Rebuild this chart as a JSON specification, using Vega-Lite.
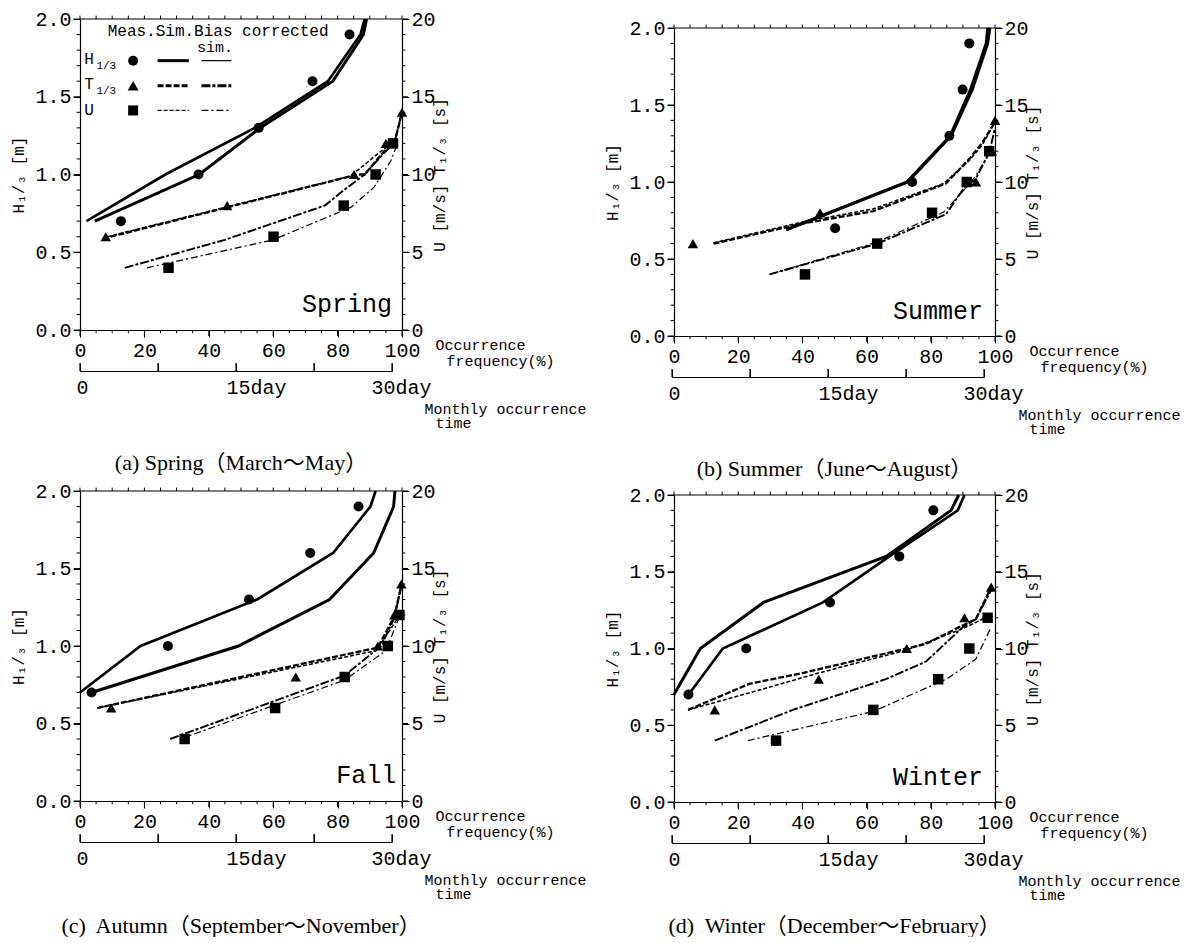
{
"$schema": "https://vega.github.io/schema/vega-lite/v6.json",
"background": "white",
"padding": {"left": 10, "top": 9, "right": 0, "bottom": 0},
"config": {
  "view": {"stroke": null},
  "font": "Liberation Mono",
  "axis": {"labelFont": "Liberation Mono", "labelFontSize": 20, "labelColor": "black", "titleFont": "Liberation Mono", "titleColor": "black", "titleFontWeight": "normal", "domainColor": "black", "tickColor": "black", "grid": false, "labelFlush": false, "labelOverlap": false, "tickWidth": 1, "domainWidth": 1.2},
  "text": {"font": "Liberation Mono", "color": "black"},
  "rule": {"color": "black", "strokeWidth": 1},
  "title": {"font": "Liberation Serif, Noto Sans CJK JP", "fontSize": 22, "fontWeight": "normal", "color": "black"}
},
"datasets": {
"ticks": [
{"axis":"x","v":0,"major":true},{"axis":"x","v":5,"major":false},{"axis":"x","v":10,"major":false},{"axis":"x","v":15,"major":false},{"axis":"x","v":20,"major":true},{"axis":"x","v":25,"major":false},{"axis":"x","v":30,"major":false},{"axis":"x","v":35,"major":false},{"axis":"x","v":40,"major":true},{"axis":"x","v":45,"major":false},{"axis":"x","v":50,"major":false},{"axis":"x","v":55,"major":false},{"axis":"x","v":60,"major":true},{"axis":"x","v":65,"major":false},{"axis":"x","v":70,"major":false},{"axis":"x","v":75,"major":false},{"axis":"x","v":80,"major":true},{"axis":"x","v":85,"major":false},{"axis":"x","v":90,"major":false},{"axis":"x","v":95,"major":false},{"axis":"x","v":100,"major":true},
{"axis":"y","v":0,"major":true},{"axis":"y","v":0.1,"major":false},{"axis":"y","v":0.2,"major":false},{"axis":"y","v":0.3,"major":false},{"axis":"y","v":0.4,"major":false},{"axis":"y","v":0.5,"major":true},{"axis":"y","v":0.6,"major":false},{"axis":"y","v":0.7,"major":false},{"axis":"y","v":0.8,"major":false},{"axis":"y","v":0.9,"major":false},{"axis":"y","v":1.0,"major":true},{"axis":"y","v":1.1,"major":false},{"axis":"y","v":1.2,"major":false},{"axis":"y","v":1.3,"major":false},{"axis":"y","v":1.4,"major":false},{"axis":"y","v":1.5,"major":true},{"axis":"y","v":1.6,"major":false},{"axis":"y","v":1.7,"major":false},{"axis":"y","v":1.8,"major":false},{"axis":"y","v":1.9,"major":false},{"axis":"y","v":2.0,"major":true}
],
"dayticks": [{"day":0},{"day":7.5},{"day":15},{"day":22.5},{"day":30}],
"meas": [
{"season":"Spring","var":"H","freq":12.7,"value":0.7},{"season":"Spring","var":"H","freq":36.8,"value":1.0},{"season":"Spring","var":"H","freq":55.5,"value":1.3},{"season":"Spring","var":"H","freq":72.2,"value":1.6},{"season":"Spring","var":"H","freq":83.7,"value":1.9},
{"season":"Spring","var":"T","freq":8.0,"value":6},{"season":"Spring","var":"T","freq":45.7,"value":8},{"season":"Spring","var":"T","freq":85.1,"value":10},{"season":"Spring","var":"T","freq":95.0,"value":12},{"season":"Spring","var":"T","freq":100,"value":14},
{"season":"Spring","var":"U","freq":27.5,"value":4},{"season":"Spring","var":"U","freq":60.1,"value":6},{"season":"Spring","var":"U","freq":81.9,"value":8},{"season":"Spring","var":"U","freq":91.8,"value":10},{"season":"Spring","var":"U","freq":97.2,"value":12},
{"season":"Summer","var":"H","freq":50.2,"value":0.7},{"season":"Summer","var":"H","freq":74.2,"value":1.0},{"season":"Summer","var":"H","freq":85.8,"value":1.3},{"season":"Summer","var":"H","freq":89.9,"value":1.6},{"season":"Summer","var":"H","freq":92.0,"value":1.9},
{"season":"Summer","var":"T","freq":5.9,"value":6},{"season":"Summer","var":"T","freq":45.5,"value":8},{"season":"Summer","var":"T","freq":94.1,"value":10},{"season":"Summer","var":"T","freq":99.0,"value":12},{"season":"Summer","var":"T","freq":100,"value":14},
{"season":"Summer","var":"U","freq":40.8,"value":4},{"season":"Summer","var":"U","freq":63.3,"value":6},{"season":"Summer","var":"U","freq":80.4,"value":8},{"season":"Summer","var":"U","freq":91.2,"value":10},{"season":"Summer","var":"U","freq":98.2,"value":12},
{"season":"Fall","var":"H","freq":3.6,"value":0.7},{"season":"Fall","var":"H","freq":27.3,"value":1.0},{"season":"Fall","var":"H","freq":52.5,"value":1.3},{"season":"Fall","var":"H","freq":71.5,"value":1.6},{"season":"Fall","var":"H","freq":86.5,"value":1.9},
{"season":"Fall","var":"T","freq":9.7,"value":6},{"season":"Fall","var":"T","freq":67.0,"value":8},{"season":"Fall","var":"T","freq":92.5,"value":10},{"season":"Fall","var":"T","freq":97.6,"value":12},{"season":"Fall","var":"T","freq":99.8,"value":14},
{"season":"Fall","var":"U","freq":32.5,"value":4},{"season":"Fall","var":"U","freq":60.6,"value":6},{"season":"Fall","var":"U","freq":82.2,"value":8},{"season":"Fall","var":"U","freq":95.6,"value":10},{"season":"Fall","var":"U","freq":99.2,"value":12},
{"season":"Winter","var":"H","freq":4.5,"value":0.7},{"season":"Winter","var":"H","freq":22.5,"value":1.0},{"season":"Winter","var":"H","freq":48.6,"value":1.3},{"season":"Winter","var":"H","freq":70.2,"value":1.6},{"season":"Winter","var":"H","freq":80.8,"value":1.9},
{"season":"Winter","var":"T","freq":12.7,"value":6},{"season":"Winter","var":"T","freq":45.1,"value":8},{"season":"Winter","var":"T","freq":72.5,"value":10},{"season":"Winter","var":"T","freq":90.5,"value":12},{"season":"Winter","var":"T","freq":98.8,"value":14},
{"season":"Winter","var":"U","freq":31.8,"value":4},{"season":"Winter","var":"U","freq":62.1,"value":6},{"season":"Winter","var":"U","freq":82.3,"value":8},{"season":"Winter","var":"U","freq":92.0,"value":10},{"season":"Winter","var":"U","freq":97.7,"value":12}
],
"lines": [
{"season":"Spring","var":"H","series":"H sim","freq":4.6,"value":0.7},{"season":"Spring","var":"H","series":"H sim","freq":37,"value":1.0},{"season":"Spring","var":"H","series":"H sim","freq":56,"value":1.3},{"season":"Spring","var":"H","series":"H sim","freq":78.5,"value":1.6},{"season":"Spring","var":"H","series":"H sim","freq":88,"value":1.9},{"season":"Spring","var":"H","series":"H sim","freq":89,"value":2.0},
{"season":"Spring","var":"H","series":"H bias","freq":2,"value":0.7},{"season":"Spring","var":"H","series":"H bias","freq":26.5,"value":1.0},{"season":"Spring","var":"H","series":"H bias","freq":54.3,"value":1.3},{"season":"Spring","var":"H","series":"H bias","freq":77,"value":1.6},{"season":"Spring","var":"H","series":"H bias","freq":87.1,"value":1.9},{"season":"Spring","var":"H","series":"H bias","freq":88.4,"value":2.0},
{"season":"Spring","var":"TU","series":"T sim","freq":9.5,"value":6},{"season":"Spring","var":"TU","series":"T sim","freq":86.3,"value":10},{"season":"Spring","var":"TU","series":"T sim","freq":88.4,"value":10},{"season":"Spring","var":"TU","series":"T sim","freq":94.5,"value":11.5},{"season":"Spring","var":"TU","series":"T sim","freq":97.6,"value":12},{"season":"Spring","var":"TU","series":"T sim","freq":100,"value":14},
{"season":"Spring","var":"TU","series":"U sim","freq":8.5,"value":6},{"season":"Spring","var":"TU","series":"U sim","freq":84,"value":9.9},{"season":"Spring","var":"TU","series":"U sim","freq":93.5,"value":11.5},{"season":"Spring","var":"TU","series":"U sim","freq":97,"value":12},
{"season":"Spring","var":"TU","series":"T bias","freq":13.9,"value":4},{"season":"Spring","var":"TU","series":"T bias","freq":45,"value":5.8},{"season":"Spring","var":"TU","series":"T bias","freq":76,"value":8},{"season":"Spring","var":"TU","series":"T bias","freq":82,"value":9},{"season":"Spring","var":"TU","series":"T bias","freq":88.4,"value":10},{"season":"Spring","var":"TU","series":"T bias","freq":94.5,"value":11.4},{"season":"Spring","var":"TU","series":"T bias","freq":97.6,"value":12},{"season":"Spring","var":"TU","series":"T bias","freq":100,"value":14},
{"season":"Spring","var":"TU","series":"U bias","freq":20.8,"value":4},{"season":"Spring","var":"TU","series":"U bias","freq":60,"value":5.8},{"season":"Spring","var":"TU","series":"U bias","freq":84.2,"value":7.9},{"season":"Spring","var":"TU","series":"U bias","freq":91.4,"value":9.2},{"season":"Spring","var":"TU","series":"U bias","freq":96.6,"value":10.9},{"season":"Spring","var":"TU","series":"U bias","freq":98.4,"value":11.9},
{"season":"Summer","var":"H","series":"H sim","freq":35,"value":0.69},{"season":"Summer","var":"H","series":"H sim","freq":72.8,"value":1.0},{"season":"Summer","var":"H","series":"H sim","freq":86.3,"value":1.3},{"season":"Summer","var":"H","series":"H sim","freq":92.9,"value":1.6},{"season":"Summer","var":"H","series":"H sim","freq":97.7,"value":1.9},{"season":"Summer","var":"H","series":"H sim","freq":98.4,"value":2.0},
{"season":"Summer","var":"H","series":"H bias","freq":35,"value":0.69},{"season":"Summer","var":"H","series":"H bias","freq":72.5,"value":1.0},{"season":"Summer","var":"H","series":"H bias","freq":86,"value":1.3},{"season":"Summer","var":"H","series":"H bias","freq":92.3,"value":1.6},{"season":"Summer","var":"H","series":"H bias","freq":97.2,"value":1.9},{"season":"Summer","var":"H","series":"H bias","freq":97.7,"value":2.0},
{"season":"Summer","var":"TU","series":"T sim","freq":12.3,"value":6},{"season":"Summer","var":"TU","series":"T sim","freq":40,"value":7.3},{"season":"Summer","var":"TU","series":"T sim","freq":62,"value":8.1},{"season":"Summer","var":"TU","series":"T sim","freq":84.7,"value":9.9},{"season":"Summer","var":"TU","series":"T sim","freq":92,"value":11.5},{"season":"Summer","var":"TU","series":"T sim","freq":96.2,"value":12.6},{"season":"Summer","var":"TU","series":"T sim","freq":100,"value":13.9},
{"season":"Summer","var":"TU","series":"U sim","freq":12.3,"value":6.05},{"season":"Summer","var":"TU","series":"U sim","freq":40,"value":7.4},{"season":"Summer","var":"TU","series":"U sim","freq":62,"value":8.25},{"season":"Summer","var":"TU","series":"U sim","freq":84,"value":9.9},{"season":"Summer","var":"TU","series":"U sim","freq":92,"value":11.4},{"season":"Summer","var":"TU","series":"U sim","freq":96,"value":12.4},{"season":"Summer","var":"TU","series":"U sim","freq":99,"value":13.5},
{"season":"Summer","var":"TU","series":"T bias","freq":29.8,"value":4},{"season":"Summer","var":"TU","series":"T bias","freq":63.3,"value":6},{"season":"Summer","var":"TU","series":"T bias","freq":84.7,"value":7.9},{"season":"Summer","var":"TU","series":"T bias","freq":90,"value":9.5},{"season":"Summer","var":"TU","series":"T bias","freq":94,"value":10.2},{"season":"Summer","var":"TU","series":"T bias","freq":98.2,"value":11.9},{"season":"Summer","var":"TU","series":"T bias","freq":100,"value":13.5},
{"season":"Summer","var":"TU","series":"U bias","freq":29.8,"value":4},{"season":"Summer","var":"TU","series":"U bias","freq":63.3,"value":6.1},{"season":"Summer","var":"TU","series":"U bias","freq":84,"value":8.05},{"season":"Summer","var":"TU","series":"U bias","freq":90,"value":9.4},{"season":"Summer","var":"TU","series":"U bias","freq":94,"value":10.4},{"season":"Summer","var":"TU","series":"U bias","freq":98,"value":11.8},
{"season":"Fall","var":"H","series":"H sim","freq":3.6,"value":0.7},{"season":"Fall","var":"H","series":"H sim","freq":49.2,"value":1.0},{"season":"Fall","var":"H","series":"H sim","freq":77.5,"value":1.3},{"season":"Fall","var":"H","series":"H sim","freq":91.2,"value":1.6},{"season":"Fall","var":"H","series":"H sim","freq":97.4,"value":1.9},{"season":"Fall","var":"H","series":"H sim","freq":97.8,"value":2.0},
{"season":"Fall","var":"H","series":"H bias","freq":0,"value":0.7},{"season":"Fall","var":"H","series":"H bias","freq":18.8,"value":1.0},{"season":"Fall","var":"H","series":"H bias","freq":55,"value":1.3},{"season":"Fall","var":"H","series":"H bias","freq":78.6,"value":1.6},{"season":"Fall","var":"H","series":"H bias","freq":90.2,"value":1.9},{"season":"Fall","var":"H","series":"H bias","freq":91.8,"value":2.0},
{"season":"Fall","var":"TU","series":"T sim","freq":5.4,"value":6},{"season":"Fall","var":"TU","series":"T sim","freq":92.5,"value":9.9},{"season":"Fall","var":"TU","series":"T sim","freq":97.6,"value":11.9},{"season":"Fall","var":"TU","series":"T sim","freq":99.8,"value":13.9},
{"season":"Fall","var":"TU","series":"U sim","freq":5.4,"value":6},{"season":"Fall","var":"TU","series":"U sim","freq":92,"value":9.7},{"season":"Fall","var":"TU","series":"U sim","freq":98.4,"value":11.7},
{"season":"Fall","var":"TU","series":"T bias","freq":28,"value":4},{"season":"Fall","var":"TU","series":"T bias","freq":82.2,"value":8.1},{"season":"Fall","var":"TU","series":"T bias","freq":93.5,"value":10},{"season":"Fall","var":"TU","series":"T bias","freq":97.6,"value":11.8},{"season":"Fall","var":"TU","series":"T bias","freq":99.8,"value":13.9},
{"season":"Fall","var":"TU","series":"U bias","freq":31.1,"value":4},{"season":"Fall","var":"TU","series":"U bias","freq":82.2,"value":7.8},{"season":"Fall","var":"TU","series":"U bias","freq":95,"value":9.7},{"season":"Fall","var":"TU","series":"U bias","freq":99.2,"value":11.9},
{"season":"Winter","var":"H","series":"H sim","freq":0,"value":0.7},{"season":"Winter","var":"H","series":"H sim","freq":8.2,"value":1.0},{"season":"Winter","var":"H","series":"H sim","freq":27.9,"value":1.3},{"season":"Winter","var":"H","series":"H sim","freq":66.1,"value":1.6},{"season":"Winter","var":"H","series":"H sim","freq":86.3,"value":1.9},{"season":"Winter","var":"H","series":"H sim","freq":88.7,"value":2.0},
{"season":"Winter","var":"H","series":"H bias","freq":4.9,"value":0.71},{"season":"Winter","var":"H","series":"H bias","freq":15.2,"value":1.0},{"season":"Winter","var":"H","series":"H bias","freq":46.4,"value":1.3},{"season":"Winter","var":"H","series":"H bias","freq":67.1,"value":1.6},{"season":"Winter","var":"H","series":"H bias","freq":88.4,"value":1.9},{"season":"Winter","var":"H","series":"H bias","freq":90.5,"value":2.0},
{"season":"Winter","var":"TU","series":"T sim","freq":4.4,"value":6},{"season":"Winter","var":"TU","series":"T sim","freq":23.5,"value":7.7},{"season":"Winter","var":"TU","series":"T sim","freq":40,"value":8.4},{"season":"Winter","var":"TU","series":"T sim","freq":72.5,"value":10},{"season":"Winter","var":"TU","series":"T sim","freq":78.5,"value":10.3},{"season":"Winter","var":"TU","series":"T sim","freq":88.9,"value":11.4},{"season":"Winter","var":"TU","series":"T sim","freq":94,"value":11.9},{"season":"Winter","var":"TU","series":"T sim","freq":98.8,"value":14},
{"season":"Winter","var":"TU","series":"U sim","freq":4.4,"value":6},{"season":"Winter","var":"TU","series":"U sim","freq":25,"value":7.2},{"season":"Winter","var":"TU","series":"U sim","freq":45,"value":8.4},{"season":"Winter","var":"TU","series":"U sim","freq":72.5,"value":9.9},{"season":"Winter","var":"TU","series":"U sim","freq":90,"value":11.3},{"season":"Winter","var":"TU","series":"U sim","freq":97,"value":12},
{"season":"Winter","var":"TU","series":"T bias","freq":12.7,"value":4},{"season":"Winter","var":"TU","series":"T bias","freq":37,"value":6},{"season":"Winter","var":"TU","series":"T bias","freq":66,"value":8},{"season":"Winter","var":"TU","series":"T bias","freq":78.5,"value":9.15},{"season":"Winter","var":"TU","series":"T bias","freq":90,"value":11.4},{"season":"Winter","var":"TU","series":"T bias","freq":94,"value":11.9},{"season":"Winter","var":"TU","series":"T bias","freq":98.8,"value":13.8},
{"season":"Winter","var":"TU","series":"U bias","freq":23,"value":4},{"season":"Winter","var":"TU","series":"U bias","freq":62.1,"value":5.9},{"season":"Winter","var":"TU","series":"U bias","freq":84.8,"value":8},{"season":"Winter","var":"TU","series":"U bias","freq":94,"value":9.3},{"season":"Winter","var":"TU","series":"U bias","freq":98.8,"value":11.4}
]
},
"columns": 2,
"spacing": {"row": 161, "column": 272},
"bounds": "flush",
"concat": [
{
  "width": 322, "height": 311,
  "title": {"text": "(a) Spring（March～May）", "orient": "bottom", "frame": "group", "offset": 23},
  "layer": [
    {
      "layer": [
        {
          "layer": [
            {"data": {"name": "lines"}, "transform": [{"filter": "datum.season === 'Spring' && datum.var === 'H'"}],
             "mark": {"type": "line", "color": "black", "strokeCap": "butt"},
             "encoding": {
               "x": {"field": "freq", "type": "quantitative", "scale": {"domain": [0, 100], "nice": false},
                     "axis": {"orient": "bottom", "values": [0,20,40,60,80,100], "tickSize": 7, "labelPadding": 3, "labelOverlap": false, "title": ["Occurrence", "\u2800frequency(%)"], "titleX": 355, "titleY": 7, "titleAlign": "left", "titleBaseline": "top", "titleAngle": 0, "titleFontSize": 15, "titleLineHeight": 16}},
               "y": {"field": "value", "type": "quantitative", "scale": {"domain": [0, 2], "nice": false},
                     "axis": {"orient": "left", "values": [0,0.5,1,1.5,2], "format": ".1f", "tickSize": 7, "labelPadding": 2, "labelOverlap": false, "title": "H₁/₃ [m]", "titleFontSize": 16, "titlePadding": 8}},
               "strokeWidth": {"field": "series", "type": "nominal", "scale": {"domain": ["H sim","H bias","T sim","T bias","U sim","U bias"], "range": [3, 1.2, 3, 3, 1.2, 1.2]}, "legend": null}
             }},
            {"data": {"name": "meas"}, "transform": [{"filter": "datum.season === 'Spring' && datum.var === 'H'"}],
             "mark": {"type": "point", "shape": "circle", "filled": true, "color": "black", "size": 100, "opacity": 1},
             "encoding": {"x": {"field": "freq", "type": "quantitative"}, "y": {"field": "value", "type": "quantitative"}}},
            {"data": {"name": "ticks"}, "transform": [{"filter": "datum.axis === 'x' && datum.major"}], "mark": {"type": "rule"},
             "encoding": {"x": {"field": "v", "type": "quantitative"}, "y": {"datum": 0}, "y2": {"datum": -0.039}}},
            {"data": {"name": "ticks"}, "transform": [{"filter": "datum.axis === 'x' && !datum.major"}], "mark": {"type": "rule"},
             "encoding": {"x": {"field": "v", "type": "quantitative"}, "y": {"datum": 0}, "y2": {"datum": -0.021}}},
            {"data": {"name": "ticks"}, "transform": [{"filter": "datum.axis === 'x'"}], "mark": {"type": "rule"},
             "encoding": {"x": {"field": "v", "type": "quantitative"}, "y": {"datum": 2}, "y2": {"datum": 2.022}}},
            {"data": {"values": [{}]}, "mark": {"type": "rule", "strokeWidth": 1.2},
             "encoding": {"x": {"datum": 0}, "x2": {"datum": 100}, "y": {"datum": 2}}},
            {"data": {"name": "ticks"}, "transform": [{"filter": "datum.axis === 'y' && datum.major"}], "mark": {"type": "rule"},
             "encoding": {"y": {"field": "v", "type": "quantitative"}, "x": {"datum": 0}, "x2": {"datum": -1.9}}},
            {"data": {"name": "ticks"}, "transform": [{"filter": "datum.axis === 'y' && !datum.major"}], "mark": {"type": "rule"},
             "encoding": {"y": {"field": "v", "type": "quantitative"}, "x": {"datum": 0}, "x2": {"datum": -1.05}}},
            {"data": {"name": "ticks"}, "transform": [{"filter": "datum.axis === 'y' && datum.major"}], "mark": {"type": "rule"},
             "encoding": {"y": {"field": "v", "type": "quantitative"}, "x": {"datum": 100}, "x2": {"datum": 101.9}}},
            {"data": {"name": "ticks"}, "transform": [{"filter": "datum.axis === 'y' && !datum.major"}], "mark": {"type": "rule"},
             "encoding": {"y": {"field": "v", "type": "quantitative"}, "x": {"datum": 100}, "x2": {"datum": 101.05}}},
            {"data": {"values": [{}]}, "mark": {"type": "text", "align": "right", "baseline": "middle", "fontSize": 25},
             "encoding": {"x": {"datum": 96.9}, "y": {"datum": 0.17}, "text": {"value": "Spring"}}},
            {"data": {"values": [{}]}, "mark": {"type": "text", "align": "left", "baseline": "middle", "fontSize": 16},
             "encoding": {"x": {"datum": 8.6}, "y": {"datum": 1.925}, "text": {"value": "Meas.Sim.Bias corrected"}}},
            {"data": {"values": [{}]}, "mark": {"type": "text", "align": "center", "baseline": "middle", "fontSize": 15},
             "encoding": {"x": {"datum": 41.9}, "y": {"datum": 1.82}, "text": {"value": "sim."}}},
            {"data": {"values": [{}]}, "mark": {"type": "text", "align": "left", "baseline": "middle", "fontSize": 16},
             "encoding": {"x": {"datum": 1.3}, "y": {"datum": 1.745}, "text": {"value": "H"}}},
            {"data": {"values": [{}]}, "mark": {"type": "text", "align": "left", "baseline": "middle", "fontSize": 16},
             "encoding": {"x": {"datum": 1.3}, "y": {"datum": 1.585}, "text": {"value": "T"}}},
            {"data": {"values": [{}]}, "mark": {"type": "text", "align": "left", "baseline": "middle", "fontSize": 16},
             "encoding": {"x": {"datum": 1.3}, "y": {"datum": 1.415}, "text": {"value": "U"}}},
            {"data": {"values": [{}]}, "mark": {"type": "text", "align": "left", "baseline": "middle", "fontSize": 11},
             "encoding": {"x": {"datum": 5.1}, "y": {"datum": 1.7}, "text": {"value": "1/3"}}},
            {"data": {"values": [{}]}, "mark": {"type": "text", "align": "left", "baseline": "middle", "fontSize": 11},
             "encoding": {"x": {"datum": 5.1}, "y": {"datum": 1.537}, "text": {"value": "1/3"}}},
            {"data": {"values": [{}]}, "mark": {"type": "point", "shape": "circle", "filled": true, "color": "black", "size": 100, "opacity": 1},
             "encoding": {"x": {"datum": 16.5}, "y": {"datum": 1.732}}},
            {"data": {"values": [{}]}, "mark": {"type": "point", "shape": "triangle-up", "filled": true, "color": "black", "size": 120, "opacity": 1},
             "encoding": {"x": {"datum": 16.5}, "y": {"datum": 1.57}}},
            {"data": {"values": [{}]}, "mark": {"type": "point", "shape": "square", "filled": true, "color": "black", "size": 100, "opacity": 1},
             "encoding": {"x": {"datum": 16.5}, "y": {"datum": 1.412}}},
            {"data": {"values": [{}]}, "mark": {"type": "rule", "color": "black", "strokeWidth": 3},
             "encoding": {"x": {"datum": 24.1}, "x2": {"datum": 33.8}, "y": {"datum": 1.732}}},
            {"data": {"values": [{}]}, "mark": {"type": "rule", "color": "black", "strokeWidth": 1.2},
             "encoding": {"x": {"datum": 37.7}, "x2": {"datum": 47.0}, "y": {"datum": 1.732}}},
            {"data": {"values": [{}]}, "mark": {"type": "rule", "color": "black", "strokeWidth": 3, "strokeDash": [6, 2]},
             "encoding": {"x": {"datum": 24.1}, "x2": {"datum": 33.8}, "y": {"datum": 1.57}}},
            {"data": {"values": [{}]}, "mark": {"type": "rule", "color": "black", "strokeWidth": 3, "strokeDash": [9, 2, 3, 2]},
             "encoding": {"x": {"datum": 37.7}, "x2": {"datum": 47.0}, "y": {"datum": 1.57}}},
            {"data": {"values": [{}]}, "mark": {"type": "rule", "color": "black", "strokeWidth": 1.2, "strokeDash": [4, 2]},
             "encoding": {"x": {"datum": 24.1}, "x2": {"datum": 33.8}, "y": {"datum": 1.412}}},
            {"data": {"values": [{}]}, "mark": {"type": "rule", "color": "black", "strokeWidth": 1.2, "strokeDash": [7, 3, 2, 3]},
             "encoding": {"x": {"datum": 37.7}, "x2": {"datum": 47.0}, "y": {"datum": 1.412}}}
          ]
        },
        {
          "layer": [
            {"data": {"name": "lines"}, "transform": [{"filter": "datum.season === 'Spring' && datum.var === 'TU'"}],
             "mark": {"type": "line", "color": "black", "strokeCap": "butt"},
             "encoding": {
               "x": {"field": "freq", "type": "quantitative", "scale": {"domain": [0, 100], "nice": false}},
               "y": {"field": "value", "type": "quantitative", "scale": {"domain": [0, 20], "nice": false},
                     "axis": {"orient": "right", "values": [0,5,10,15,20], "tickSize": 7, "labelPadding": 2, "labelOverlap": false, "title": "U [m/s]  T₁/₃ [s]", "titleAngle": 270, "titleFontSize": 16, "titlePadding": 12}},
               "strokeWidth": {"field": "series", "type": "nominal", "scale": {"domain": ["H sim","H bias","T sim","T bias","U sim","U bias"], "range": [3, 1.2, 3, 3, 1.2, 1.2]}, "legend": null},
               "strokeDash": {"field": "series", "type": "nominal", "scale": {"domain": ["T sim","T bias","U sim","U bias"], "range": [[6,2],[9,2,3,2],[4,2],[7,3,2,3]]}, "legend": null}
             }},
            {"data": {"name": "meas"}, "transform": [{"filter": "datum.season === 'Spring' && datum.var !== 'H'"}],
             "mark": {"type": "point", "filled": true, "color": "black", "size": 110, "opacity": 1},
             "encoding": {"x": {"field": "freq", "type": "quantitative"}, "y": {"field": "value", "type": "quantitative"},
               "shape": {"field": "var", "type": "nominal", "scale": {"domain": ["T", "U"], "range": ["triangle-up", "square"]}, "legend": null}}}
          ]
        }
      ],
      "resolve": {"scale": {"y": "independent"}}
    },
    {
      "layer": [
        {"data": {"values": [{"day": 0}, {"day": 30}]},
         "mark": {"type": "point", "opacity": 0},
         "encoding": {"x": {"field": "day", "type": "quantitative", "scale": {"domain": [0, 30], "range": [0, 312], "nice": false},
            "axis": {"orient": "bottom", "offset": 41, "values": [0, 7.5, 15, 22.5, 30], "labelExpr": "datum.value === 0 ? '0' : datum.value === 15 ? '15day' : datum.value === 30 ? '30day' : ''", "labelAlign": "left", "labelOffset": {"condition": [{"test": "datum.value === 15", "value": -10}, {"test": "datum.value === 30", "value": -21}], "value": -4}, "tickSize": -8, "labelPadding": 14, "title": ["Monthly occurrence", "\u2800time"], "titleX": 344, "titleY": 30, "titleAlign": "left", "titleBaseline": "top", "titleAngle": 0, "titleFontSize": 15, "titleLineHeight": 14}}}},
        {"data": {"name": "dayticks"}, "mark": {"type": "rule", "strokeWidth": 1.2},
         "encoding": {"x": {"field": "day", "type": "quantitative"}, "y": {"datum": -0.264, "type": "quantitative", "scale": {"domain": [0, 2], "nice": false}, "axis": null}, "y2": {"datum": -0.212}}}
      ]
    }
  ],
  "resolve": {"scale": {"x": "independent"}}
},
{
  "vconcat": [
    {"width": 321, "height": 1, "data": {"values": [{}]}, "mark": {"type": "point", "opacity": 0}},
    {
  "width": 321, "height": 308,
  "title": {"text": "(b) Summer（June～August）", "orient": "bottom", "frame": "group", "offset": 23},
  "layer": [
    {
      "layer": [
        {
          "layer": [
            {"data": {"name": "lines"}, "transform": [{"filter": "datum.season === 'Summer' && datum.var === 'H'"}],
             "mark": {"type": "line", "color": "black", "strokeCap": "butt"},
             "encoding": {
               "x": {"field": "freq", "type": "quantitative", "scale": {"domain": [0, 100], "nice": false},
                     "axis": {"orient": "bottom", "values": [0,20,40,60,80,100], "tickSize": 7, "labelPadding": 3, "labelOverlap": false, "title": ["Occurrence", "\u2800frequency(%)"], "titleX": 355, "titleY": 7, "titleAlign": "left", "titleBaseline": "top", "titleAngle": 0, "titleFontSize": 15, "titleLineHeight": 16}},
               "y": {"field": "value", "type": "quantitative", "scale": {"domain": [0, 2], "nice": false},
                     "axis": {"orient": "left", "values": [0,0.5,1,1.5,2], "format": ".1f", "tickSize": 7, "labelPadding": 2, "labelOverlap": false, "title": "H₁/₃ [m]", "titleFontSize": 16, "titlePadding": 8}},
               "strokeWidth": {"field": "series", "type": "nominal", "scale": {"domain": ["H sim","H bias","T sim","T bias","U sim","U bias"], "range": [3, 1.2, 3, 3, 1.2, 1.2]}, "legend": null}
             }},
            {"data": {"name": "meas"}, "transform": [{"filter": "datum.season === 'Summer' && datum.var === 'H'"}],
             "mark": {"type": "point", "shape": "circle", "filled": true, "color": "black", "size": 100, "opacity": 1},
             "encoding": {"x": {"field": "freq", "type": "quantitative"}, "y": {"field": "value", "type": "quantitative"}}},
            {"data": {"name": "ticks"}, "transform": [{"filter": "datum.axis === 'x' && datum.major"}], "mark": {"type": "rule"},
             "encoding": {"x": {"field": "v", "type": "quantitative"}, "y": {"datum": 0}, "y2": {"datum": -0.039}}},
            {"data": {"name": "ticks"}, "transform": [{"filter": "datum.axis === 'x' && !datum.major"}], "mark": {"type": "rule"},
             "encoding": {"x": {"field": "v", "type": "quantitative"}, "y": {"datum": 0}, "y2": {"datum": -0.021}}},
            {"data": {"name": "ticks"}, "transform": [{"filter": "datum.axis === 'x'"}], "mark": {"type": "rule"},
             "encoding": {"x": {"field": "v", "type": "quantitative"}, "y": {"datum": 2}, "y2": {"datum": 2.022}}},
            {"data": {"values": [{}]}, "mark": {"type": "rule", "strokeWidth": 1.2},
             "encoding": {"x": {"datum": 0}, "x2": {"datum": 100}, "y": {"datum": 2}}},
            {"data": {"name": "ticks"}, "transform": [{"filter": "datum.axis === 'y' && datum.major"}], "mark": {"type": "rule"},
             "encoding": {"y": {"field": "v", "type": "quantitative"}, "x": {"datum": 0}, "x2": {"datum": -1.9}}},
            {"data": {"name": "ticks"}, "transform": [{"filter": "datum.axis === 'y' && !datum.major"}], "mark": {"type": "rule"},
             "encoding": {"y": {"field": "v", "type": "quantitative"}, "x": {"datum": 0}, "x2": {"datum": -1.05}}},
            {"data": {"name": "ticks"}, "transform": [{"filter": "datum.axis === 'y' && datum.major"}], "mark": {"type": "rule"},
             "encoding": {"y": {"field": "v", "type": "quantitative"}, "x": {"datum": 100}, "x2": {"datum": 101.9}}},
            {"data": {"name": "ticks"}, "transform": [{"filter": "datum.axis === 'y' && !datum.major"}], "mark": {"type": "rule"},
             "encoding": {"y": {"field": "v", "type": "quantitative"}, "x": {"datum": 100}, "x2": {"datum": 101.05}}},
            {"data": {"values": [{}]}, "mark": {"type": "text", "align": "right", "baseline": "middle", "fontSize": 25},
             "encoding": {"x": {"datum": 96.3}, "y": {"datum": 0.16}, "text": {"value": "Summer"}}}
          ]
        },
        {
          "layer": [
            {"data": {"name": "lines"}, "transform": [{"filter": "datum.season === 'Summer' && datum.var === 'TU'"}],
             "mark": {"type": "line", "color": "black", "strokeCap": "butt"},
             "encoding": {
               "x": {"field": "freq", "type": "quantitative", "scale": {"domain": [0, 100], "nice": false}},
               "y": {"field": "value", "type": "quantitative", "scale": {"domain": [0, 20], "nice": false},
                     "axis": {"orient": "right", "values": [0,5,10,15,20], "tickSize": 7, "labelPadding": 2, "labelOverlap": false, "title": "U [m/s]  T₁/₃ [s]", "titleAngle": 270, "titleFontSize": 16, "titlePadding": 12}},
               "strokeWidth": {"field": "series", "type": "nominal", "scale": {"domain": ["H sim","H bias","T sim","T bias","U sim","U bias"], "range": [3, 1.2, 3, 3, 1.2, 1.2]}, "legend": null},
               "strokeDash": {"field": "series", "type": "nominal", "scale": {"domain": ["T sim","T bias","U sim","U bias"], "range": [[6,2],[9,2,3,2],[4,2],[7,3,2,3]]}, "legend": null}
             }},
            {"data": {"name": "meas"}, "transform": [{"filter": "datum.season === 'Summer' && datum.var !== 'H'"}],
             "mark": {"type": "point", "filled": true, "color": "black", "size": 110, "opacity": 1},
             "encoding": {"x": {"field": "freq", "type": "quantitative"}, "y": {"field": "value", "type": "quantitative"},
               "shape": {"field": "var", "type": "nominal", "scale": {"domain": ["T", "U"], "range": ["triangle-up", "square"]}, "legend": null}}}
          ]
        }
      ],
      "resolve": {"scale": {"y": "independent"}}
    },
    {
      "layer": [
        {"data": {"values": [{"day": 0}, {"day": 30}]},
         "mark": {"type": "point", "opacity": 0},
         "encoding": {"x": {"field": "day", "type": "quantitative", "scale": {"domain": [0, 30], "range": [-2, 310], "nice": false},
            "axis": {"orient": "bottom", "offset": 41, "values": [0, 7.5, 15, 22.5, 30], "labelExpr": "datum.value === 0 ? '0' : datum.value === 15 ? '15day' : datum.value === 30 ? '30day' : ''", "labelAlign": "left", "labelOffset": {"condition": [{"test": "datum.value === 15", "value": -10}, {"test": "datum.value === 30", "value": -21}], "value": -4}, "tickSize": -8, "labelPadding": 14, "title": ["Monthly occurrence", "\u2800time"], "titleX": 344, "titleY": 30, "titleAlign": "left", "titleBaseline": "top", "titleAngle": 0, "titleFontSize": 15, "titleLineHeight": 14}}}},
        {"data": {"name": "dayticks"}, "mark": {"type": "rule", "strokeWidth": 1.2},
         "encoding": {"x": {"field": "day", "type": "quantitative"}, "y": {"datum": -0.266, "type": "quantitative", "scale": {"domain": [0, 2], "nice": false}, "axis": null}, "y2": {"datum": -0.214}}}
      ]
    }
  ],
  "resolve": {"scale": {"x": "independent"}}
    }
  ],
  "spacing": 8,
  "bounds": "flush"
},
{
  "width": 322, "height": 310,
  "title": {"text": "(c)\u00a0 Autumn（September～November）", "orient": "bottom", "frame": "group", "offset": 15},
  "layer": [
    {
      "layer": [
        {
          "layer": [
            {"data": {"name": "lines"}, "transform": [{"filter": "datum.season === 'Fall' && datum.var === 'H'"}],
             "mark": {"type": "line", "color": "black", "strokeCap": "butt"},
             "encoding": {
               "x": {"field": "freq", "type": "quantitative", "scale": {"domain": [0, 100], "nice": false},
                     "axis": {"orient": "bottom", "values": [0,20,40,60,80,100], "tickSize": 7, "labelPadding": 3, "labelOverlap": false, "title": ["Occurrence", "\u2800frequency(%)"], "titleX": 355, "titleY": 7, "titleAlign": "left", "titleBaseline": "top", "titleAngle": 0, "titleFontSize": 15, "titleLineHeight": 16}},
               "y": {"field": "value", "type": "quantitative", "scale": {"domain": [0, 2], "nice": false},
                     "axis": {"orient": "left", "values": [0,0.5,1,1.5,2], "format": ".1f", "tickSize": 7, "labelPadding": 2, "labelOverlap": false, "title": "H₁/₃ [m]", "titleFontSize": 16, "titlePadding": 8}},
               "strokeWidth": {"field": "series", "type": "nominal", "scale": {"domain": ["H sim","H bias","T sim","T bias","U sim","U bias"], "range": [3, 1.2, 3, 3, 1.2, 1.2]}, "legend": null}
             }},
            {"data": {"name": "meas"}, "transform": [{"filter": "datum.season === 'Fall' && datum.var === 'H'"}],
             "mark": {"type": "point", "shape": "circle", "filled": true, "color": "black", "size": 100, "opacity": 1},
             "encoding": {"x": {"field": "freq", "type": "quantitative"}, "y": {"field": "value", "type": "quantitative"}}},
            {"data": {"name": "ticks"}, "transform": [{"filter": "datum.axis === 'x' && datum.major"}], "mark": {"type": "rule"},
             "encoding": {"x": {"field": "v", "type": "quantitative"}, "y": {"datum": 0}, "y2": {"datum": -0.039}}},
            {"data": {"name": "ticks"}, "transform": [{"filter": "datum.axis === 'x' && !datum.major"}], "mark": {"type": "rule"},
             "encoding": {"x": {"field": "v", "type": "quantitative"}, "y": {"datum": 0}, "y2": {"datum": -0.021}}},
            {"data": {"name": "ticks"}, "transform": [{"filter": "datum.axis === 'x'"}], "mark": {"type": "rule"},
             "encoding": {"x": {"field": "v", "type": "quantitative"}, "y": {"datum": 2}, "y2": {"datum": 2.022}}},
            {"data": {"values": [{}]}, "mark": {"type": "rule", "strokeWidth": 1.2},
             "encoding": {"x": {"datum": 0}, "x2": {"datum": 100}, "y": {"datum": 2}}},
            {"data": {"name": "ticks"}, "transform": [{"filter": "datum.axis === 'y' && datum.major"}], "mark": {"type": "rule"},
             "encoding": {"y": {"field": "v", "type": "quantitative"}, "x": {"datum": 0}, "x2": {"datum": -1.9}}},
            {"data": {"name": "ticks"}, "transform": [{"filter": "datum.axis === 'y' && !datum.major"}], "mark": {"type": "rule"},
             "encoding": {"y": {"field": "v", "type": "quantitative"}, "x": {"datum": 0}, "x2": {"datum": -1.05}}},
            {"data": {"name": "ticks"}, "transform": [{"filter": "datum.axis === 'y' && datum.major"}], "mark": {"type": "rule"},
             "encoding": {"y": {"field": "v", "type": "quantitative"}, "x": {"datum": 100}, "x2": {"datum": 101.9}}},
            {"data": {"name": "ticks"}, "transform": [{"filter": "datum.axis === 'y' && !datum.major"}], "mark": {"type": "rule"},
             "encoding": {"y": {"field": "v", "type": "quantitative"}, "x": {"datum": 100}, "x2": {"datum": 101.05}}},
            {"data": {"values": [{}]}, "mark": {"type": "text", "align": "right", "baseline": "middle", "fontSize": 25},
             "encoding": {"x": {"datum": 98.2}, "y": {"datum": 0.17}, "text": {"value": "Fall"}}}
          ]
        },
        {
          "layer": [
            {"data": {"name": "lines"}, "transform": [{"filter": "datum.season === 'Fall' && datum.var === 'TU'"}],
             "mark": {"type": "line", "color": "black", "strokeCap": "butt"},
             "encoding": {
               "x": {"field": "freq", "type": "quantitative", "scale": {"domain": [0, 100], "nice": false}},
               "y": {"field": "value", "type": "quantitative", "scale": {"domain": [0, 20], "nice": false},
                     "axis": {"orient": "right", "values": [0,5,10,15,20], "tickSize": 7, "labelPadding": 2, "labelOverlap": false, "title": "U [m/s]  T₁/₃ [s]", "titleAngle": 270, "titleFontSize": 16, "titlePadding": 12}},
               "strokeWidth": {"field": "series", "type": "nominal", "scale": {"domain": ["H sim","H bias","T sim","T bias","U sim","U bias"], "range": [3, 1.2, 3, 3, 1.2, 1.2]}, "legend": null},
               "strokeDash": {"field": "series", "type": "nominal", "scale": {"domain": ["T sim","T bias","U sim","U bias"], "range": [[6,2],[9,2,3,2],[4,2],[7,3,2,3]]}, "legend": null}
             }},
            {"data": {"name": "meas"}, "transform": [{"filter": "datum.season === 'Fall' && datum.var !== 'H'"}],
             "mark": {"type": "point", "filled": true, "color": "black", "size": 110, "opacity": 1},
             "encoding": {"x": {"field": "freq", "type": "quantitative"}, "y": {"field": "value", "type": "quantitative"},
               "shape": {"field": "var", "type": "nominal", "scale": {"domain": ["T", "U"], "range": ["triangle-up", "square"]}, "legend": null}}}
          ]
        }
      ],
      "resolve": {"scale": {"y": "independent"}}
    },
    {
      "layer": [
        {"data": {"values": [{"day": 0}, {"day": 30}]},
         "mark": {"type": "point", "opacity": 0},
         "encoding": {"x": {"field": "day", "type": "quantitative", "scale": {"domain": [0, 30], "range": [0, 312], "nice": false},
            "axis": {"orient": "bottom", "offset": 41, "values": [0, 7.5, 15, 22.5, 30], "labelExpr": "datum.value === 0 ? '0' : datum.value === 15 ? '15day' : datum.value === 30 ? '30day' : ''", "labelAlign": "left", "labelOffset": {"condition": [{"test": "datum.value === 15", "value": -10}, {"test": "datum.value === 30", "value": -21}], "value": -4}, "tickSize": -8, "labelPadding": 14, "title": ["Monthly occurrence", "\u2800time"], "titleX": 344, "titleY": 30, "titleAlign": "left", "titleBaseline": "top", "titleAngle": 0, "titleFontSize": 15, "titleLineHeight": 14}}}},
        {"data": {"name": "dayticks"}, "mark": {"type": "rule", "strokeWidth": 1.2},
         "encoding": {"x": {"field": "day", "type": "quantitative"}, "y": {"datum": -0.265, "type": "quantitative", "scale": {"domain": [0, 2], "nice": false}, "axis": null}, "y2": {"datum": -0.213}}}
      ]
    }
  ],
  "resolve": {"scale": {"x": "independent"}}
},
{
  "vconcat": [
    {"width": 321, "height": 1, "data": {"values": [{}]}, "mark": {"type": "point", "opacity": 0}},
    {
  "width": 321, "height": 307,
  "title": {"text": "(d)\u00a0 Winter（December～February）", "orient": "bottom", "frame": "group", "offset": 14},
  "layer": [
    {
      "layer": [
        {
          "layer": [
            {"data": {"name": "lines"}, "transform": [{"filter": "datum.season === 'Winter' && datum.var === 'H'"}],
             "mark": {"type": "line", "color": "black", "strokeCap": "butt"},
             "encoding": {
               "x": {"field": "freq", "type": "quantitative", "scale": {"domain": [0, 100], "nice": false},
                     "axis": {"orient": "bottom", "values": [0,20,40,60,80,100], "tickSize": 7, "labelPadding": 3, "labelOverlap": false, "title": ["Occurrence", "\u2800frequency(%)"], "titleX": 355, "titleY": 7, "titleAlign": "left", "titleBaseline": "top", "titleAngle": 0, "titleFontSize": 15, "titleLineHeight": 16}},
               "y": {"field": "value", "type": "quantitative", "scale": {"domain": [0, 2], "nice": false},
                     "axis": {"orient": "left", "values": [0,0.5,1,1.5,2], "format": ".1f", "tickSize": 7, "labelPadding": 2, "labelOverlap": false, "title": "H₁/₃ [m]", "titleFontSize": 16, "titlePadding": 8}},
               "strokeWidth": {"field": "series", "type": "nominal", "scale": {"domain": ["H sim","H bias","T sim","T bias","U sim","U bias"], "range": [3, 1.2, 3, 3, 1.2, 1.2]}, "legend": null}
             }},
            {"data": {"name": "meas"}, "transform": [{"filter": "datum.season === 'Winter' && datum.var === 'H'"}],
             "mark": {"type": "point", "shape": "circle", "filled": true, "color": "black", "size": 100, "opacity": 1},
             "encoding": {"x": {"field": "freq", "type": "quantitative"}, "y": {"field": "value", "type": "quantitative"}}},
            {"data": {"name": "ticks"}, "transform": [{"filter": "datum.axis === 'x' && datum.major"}], "mark": {"type": "rule"},
             "encoding": {"x": {"field": "v", "type": "quantitative"}, "y": {"datum": 0}, "y2": {"datum": -0.039}}},
            {"data": {"name": "ticks"}, "transform": [{"filter": "datum.axis === 'x' && !datum.major"}], "mark": {"type": "rule"},
             "encoding": {"x": {"field": "v", "type": "quantitative"}, "y": {"datum": 0}, "y2": {"datum": -0.021}}},
            {"data": {"name": "ticks"}, "transform": [{"filter": "datum.axis === 'x'"}], "mark": {"type": "rule"},
             "encoding": {"x": {"field": "v", "type": "quantitative"}, "y": {"datum": 2}, "y2": {"datum": 2.022}}},
            {"data": {"values": [{}]}, "mark": {"type": "rule", "strokeWidth": 1.2},
             "encoding": {"x": {"datum": 0}, "x2": {"datum": 100}, "y": {"datum": 2}}},
            {"data": {"name": "ticks"}, "transform": [{"filter": "datum.axis === 'y' && datum.major"}], "mark": {"type": "rule"},
             "encoding": {"y": {"field": "v", "type": "quantitative"}, "x": {"datum": 0}, "x2": {"datum": -1.9}}},
            {"data": {"name": "ticks"}, "transform": [{"filter": "datum.axis === 'y' && !datum.major"}], "mark": {"type": "rule"},
             "encoding": {"y": {"field": "v", "type": "quantitative"}, "x": {"datum": 0}, "x2": {"datum": -1.05}}},
            {"data": {"name": "ticks"}, "transform": [{"filter": "datum.axis === 'y' && datum.major"}], "mark": {"type": "rule"},
             "encoding": {"y": {"field": "v", "type": "quantitative"}, "x": {"datum": 100}, "x2": {"datum": 101.9}}},
            {"data": {"name": "ticks"}, "transform": [{"filter": "datum.axis === 'y' && !datum.major"}], "mark": {"type": "rule"},
             "encoding": {"y": {"field": "v", "type": "quantitative"}, "x": {"datum": 100}, "x2": {"datum": 101.05}}},
            {"data": {"values": [{}]}, "mark": {"type": "text", "align": "right", "baseline": "middle", "fontSize": 25},
             "encoding": {"x": {"datum": 96.3}, "y": {"datum": 0.16}, "text": {"value": "Winter"}}}
          ]
        },
        {
          "layer": [
            {"data": {"name": "lines"}, "transform": [{"filter": "datum.season === 'Winter' && datum.var === 'TU'"}],
             "mark": {"type": "line", "color": "black", "strokeCap": "butt"},
             "encoding": {
               "x": {"field": "freq", "type": "quantitative", "scale": {"domain": [0, 100], "nice": false}},
               "y": {"field": "value", "type": "quantitative", "scale": {"domain": [0, 20], "nice": false},
                     "axis": {"orient": "right", "values": [0,5,10,15,20], "tickSize": 7, "labelPadding": 2, "labelOverlap": false, "title": "U [m/s]  T₁/₃ [s]", "titleAngle": 270, "titleFontSize": 16, "titlePadding": 12}},
               "strokeWidth": {"field": "series", "type": "nominal", "scale": {"domain": ["H sim","H bias","T sim","T bias","U sim","U bias"], "range": [3, 1.2, 3, 3, 1.2, 1.2]}, "legend": null},
               "strokeDash": {"field": "series", "type": "nominal", "scale": {"domain": ["T sim","T bias","U sim","U bias"], "range": [[6,2],[9,2,3,2],[4,2],[7,3,2,3]]}, "legend": null}
             }},
            {"data": {"name": "meas"}, "transform": [{"filter": "datum.season === 'Winter' && datum.var !== 'H'"}],
             "mark": {"type": "point", "filled": true, "color": "black", "size": 110, "opacity": 1},
             "encoding": {"x": {"field": "freq", "type": "quantitative"}, "y": {"field": "value", "type": "quantitative"},
               "shape": {"field": "var", "type": "nominal", "scale": {"domain": ["T", "U"], "range": ["triangle-up", "square"]}, "legend": null}}}
          ]
        }
      ],
      "resolve": {"scale": {"y": "independent"}}
    },
    {
      "layer": [
        {"data": {"values": [{"day": 0}, {"day": 30}]},
         "mark": {"type": "point", "opacity": 0},
         "encoding": {"x": {"field": "day", "type": "quantitative", "scale": {"domain": [0, 30], "range": [-2, 310], "nice": false},
            "axis": {"orient": "bottom", "offset": 41, "values": [0, 7.5, 15, 22.5, 30], "labelExpr": "datum.value === 0 ? '0' : datum.value === 15 ? '15day' : datum.value === 30 ? '30day' : ''", "labelAlign": "left", "labelOffset": {"condition": [{"test": "datum.value === 15", "value": -10}, {"test": "datum.value === 30", "value": -21}], "value": -4}, "tickSize": -8, "labelPadding": 14, "title": ["Monthly occurrence", "\u2800time"], "titleX": 344, "titleY": 30, "titleAlign": "left", "titleBaseline": "top", "titleAngle": 0, "titleFontSize": 15, "titleLineHeight": 14}}}},
        {"data": {"name": "dayticks"}, "mark": {"type": "rule", "strokeWidth": 1.2},
         "encoding": {"x": {"field": "day", "type": "quantitative"}, "y": {"datum": -0.267, "type": "quantitative", "scale": {"domain": [0, 2], "nice": false}, "axis": null}, "y2": {"datum": -0.215}}}
      ]
    }
  ],
  "resolve": {"scale": {"x": "independent"}}
    }
  ],
  "spacing": 3,
  "bounds": "flush"
}
]
}
